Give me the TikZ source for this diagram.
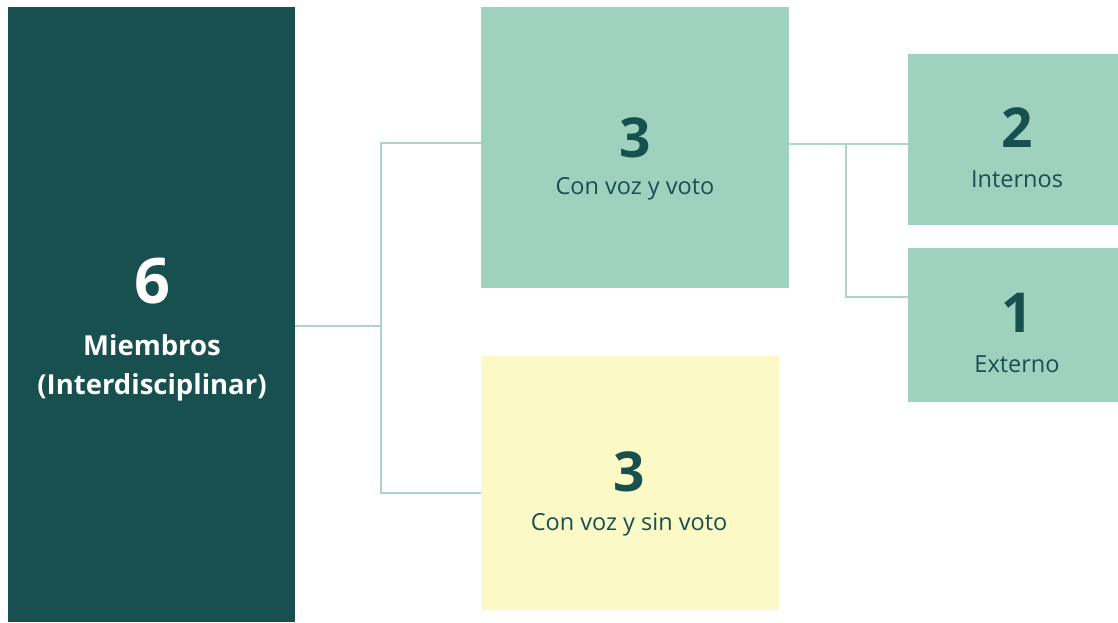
\documentclass[tikz,border=0pt]{standalone}
\usepackage{fontspec}
\setmainfont{Open Sans}
\definecolor{dark}{HTML}{17504E}
\definecolor{mint}{HTML}{9ED1BE}
\definecolor{pale}{HTML}{FBF9C6}
\definecolor{linec}{HTML}{A9D6C6}
\begin{document}
\begin{tikzpicture}[x=1pt,y=-1pt,
  box/.style={rectangle,inner sep=0,outer sep=0,draw=none},
  big/.style={anchor=base,inner sep=0,font=\fontsize{55}{55}\selectfont\bfseries,text=dark},
  lbl/.style={anchor=base,inner sep=0,font=\fontsize{23.5}{23.5}\selectfont,text=dark},
  wlbl/.style={anchor=base,inner sep=0,font=\fontsize{27.5}{27.5}\selectfont\bfseries,text=white},
  conn/.style={draw=linec,line width=2.5pt}]
\useasboundingbox (0,0) rectangle (1118,622);
% boxes
\node[box,fill=dark,minimum width=287,minimum height=615] (m6) at (151.5,314.5) {};
\node[box,fill=mint,minimum width=308,minimum height=281] (c3a) at (635,147.5) {};
\node[box,fill=pale,minimum width=298,minimum height=254] (c3b) at (630,483) {};
\node[box,fill=mint,minimum width=210,minimum height=171] (i2) at (1013,139.5) {};
\node[box,fill=mint,minimum width=210,minimum height=154] (e1) at (1013,325) {};
% texts
\node[big,text=white,font=\fontsize{63}{63}\selectfont\bfseries] (t6) at (152,303) {6};
\node[wlbl] (t6a) at (152,355) {Miembros};
\node[wlbl] (t6b) at (152,394) {(Interdisciplinar)};
\node[big] (t3a) at (635,157) {3};
\node[lbl] (t3al) at (635,194) {Con voz y voto};
\node[big] (t3b) at (629,491) {3};
\node[lbl] (t3bl) at (629,530) {Con voz y sin voto};
\node[big] (t2) at (1017,147) {2};
\node[lbl] (t2l) at (1017,187) {Internos};
\node[big] (t1) at (1017,332) {1};
\node[lbl] (t1l) at (1017,372) {Externo};
% junctions
\coordinate (j1) at (381,326);
\coordinate (j2) at (846,144);
\coordinate (ja) at (481,143);
\coordinate (jb) at (481,493);
\coordinate (jc) at (908,297);
% connectors
\draw[conn] (m6.east |- j1) -- (j1);
\draw[conn] (ja) -| (j1) |- (jb);
\draw[conn] (c3a.east |- j2) -- (i2.west |- j2);
\draw[conn] (j2) |- (jc);
\end{tikzpicture}
\end{document}
